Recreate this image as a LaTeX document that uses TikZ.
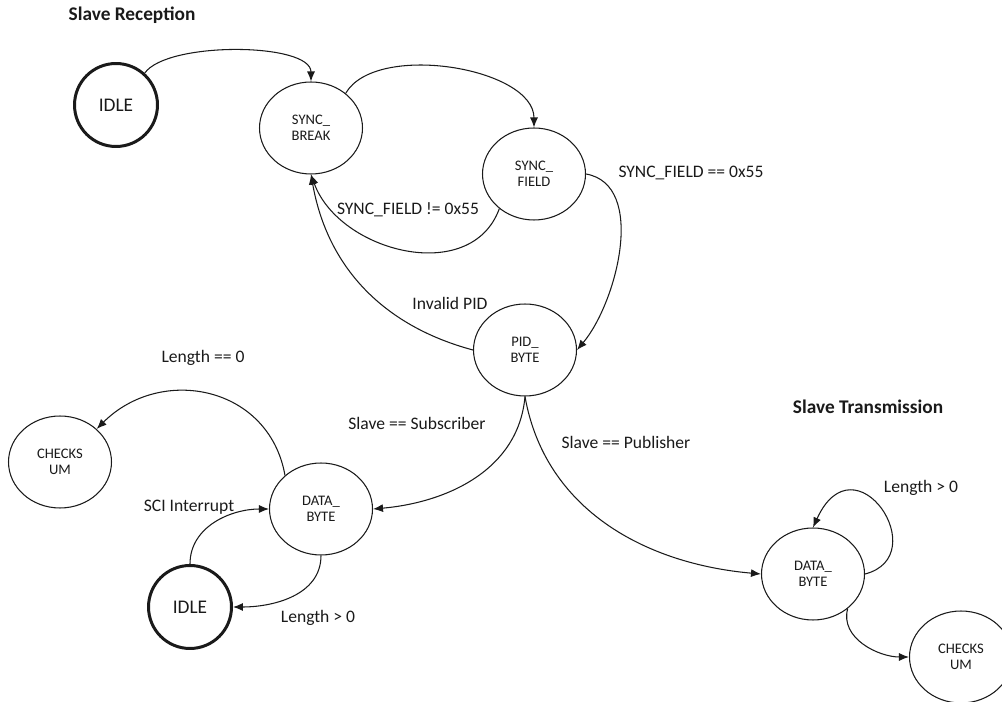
\documentclass[tikz,border=0pt]{standalone}
\usepackage{fontspec}
\setmainfont{Carlito}
\usetikzlibrary{arrows.meta,shapes.geometric}
\definecolor{Ink}{HTML}{1A1A1A}
\tikzset{
  fsm/.style={draw=Ink,ellipse,line width=0.6pt,minimum width=2.06cm,minimum height=1.84cm,inner sep=0pt,align=center,text=Ink,font=\fontsize{8.3}{9.4}\selectfont},
  idlestate/.style={draw=Ink,circle,line width=1.7pt,minimum size=1.66cm,inner sep=0pt,text=Ink,font=\fontsize{11}{13}\selectfont},
  trans/.style={-{Latex[length=2mm,width=1.6mm]},line width=0.6pt,draw=Ink},
  cond/.style={inner sep=1pt,text=Ink,font=\fontsize{10}{12}\selectfont},
  heading/.style={inner sep=1pt,text=Ink,font=\fontsize{11}{13}\selectfont\bfseries}
}
\begin{document}
\begin{tikzpicture}[x=0.02cm,y=-0.02cm]
  \useasboundingbox (0,0) rectangle (1002,702);
  % reception side
  \node[heading] (recv) at (132,15) {Slave Reception};
  \node[idlestate] (idleA) at (116,105) {IDLE};
  \node[fsm] (brk) at (311,128) {SYNC\_\\BREAK};
  \node[fsm] (fld) at (534,174) {SYNC\_\\FIELD};
  \node[fsm] (pid) at (525,350) {PID\_\\BYTE};
  \node[fsm] (ckA) at (60,462) {CHECKS\\UM};
  \node[fsm] (datA) at (321,509) {DATA\_\\BYTE};
  \node[idlestate] (idleB) at (190,607) {IDLE};
  % transmission side
  \node[heading] (xmit) at (868,407) {Slave Transmission};
  \node[fsm] (datB) at (813,574) {DATA\_\\BYTE};
  \node[fsm] (ckB) at (961,657) {CHECKS\\UM};

  % conditions
  \node[cond] (neq) at (408,210) {SYNC\_FIELD != 0x55};
  \node[cond] (eq) at (691,173) {SYNC\_FIELD == 0x55};
  \node[cond] (bad) at (450,303) {Invalid PID};
  \node[cond] (sub) at (417,423) {Slave == Subscriber};
  \node[cond] (pub) at (626,442) {Slave == Publisher};
  \node[cond] (lenA) at (203,358) {Length == 0};
  \node[cond] (sci) at (189,507) {SCI Interrupt};
  \node[cond] (lenB) at (318,618) {Length > 0};
  \node[cond] (lenC) at (921,488) {Length > 0};

  % transitions
  \draw[trans] (idleA.48) to[out=55,in=90,looseness=0.6] (brk.north);
  \draw[trans] (brk.45) to[out=60,in=90,looseness=0.8] (fld.north);
  \draw[trans] (fld.-135) to[out=-110,in=-70,looseness=1.1] (brk.south);
  \draw[trans] (fld.east) to[out=-10,in=50,looseness=0.9] (pid.east);
  \draw[trans] (pid.west) to[out=165,in=-80] (brk.south);
  \draw[trans] (pid.south) to[out=-95,in=5] (datA.east);
  \draw[trans] (pid.south) to[out=-80,in=175] (datB.west);
  \draw[trans] (datA.137) to[out=100,in=45,looseness=1.2] (ckA.42);
  \draw[trans] (idleB.north) to[out=90,in=180] (datA.west);
  \draw[trans] (datA.south) to[out=-90,in=0] (idleB.east);
  \draw[trans] (datB.east) .. controls +(70,-18) and +(42,-92) .. (datB.north);
  \draw[trans] (datB.-45) to[out=-105,in=180] (ckB.west);
\end{tikzpicture}
\end{document}
